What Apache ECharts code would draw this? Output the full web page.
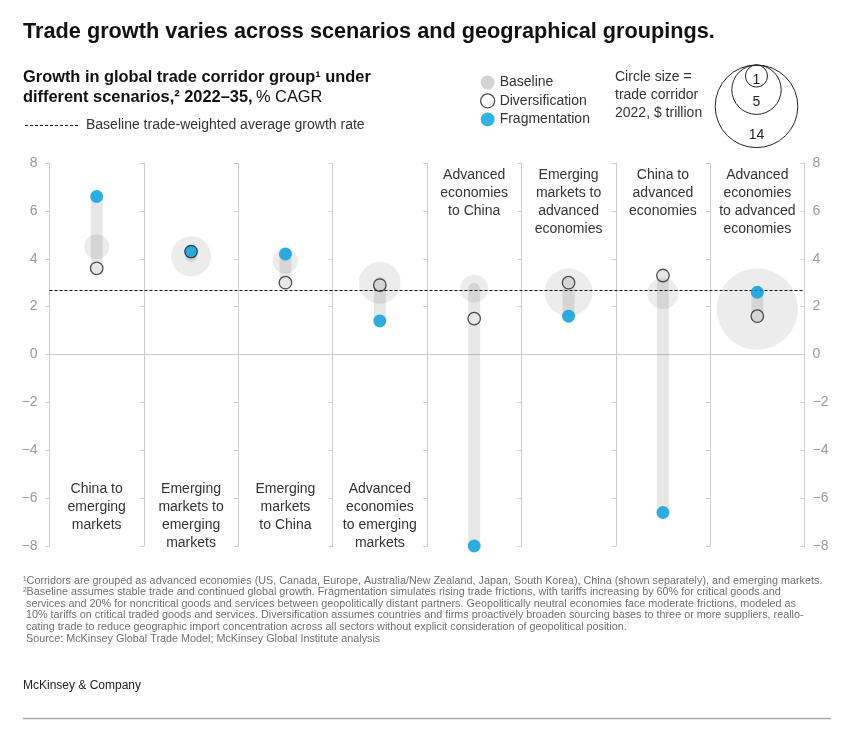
<!DOCTYPE html>
<html><head><meta charset="utf-8">
<script src="https://cdn.jsdelivr.net/npm/echarts@6/dist/echarts.min.js"></script>
<style>html,body{margin:0;padding:0;background:#fff}#c{width:847px;height:736px}</style>
</head><body><div id="c"></div>
<script>
// ---------- data ----------
const categories = [
  'China to\nemerging\nmarkets',
  'Emerging\nmarkets to\nemerging\nmarkets',
  'Emerging\nmarkets\nto China',
  'Advanced\neconomies\nto emerging\nmarkets',
  'Advanced\neconomies\nto China',
  'Emerging\nmarkets to\nadvanced\neconomies',
  'China to\nadvanced\neconomies',
  'Advanced\neconomies\nto advanced\neconomies'
];
const baseline        = [4.5, 4.1, 3.9, 3.0, 2.75, 2.6, 2.55, 1.9];
const diversification = [3.6, 4.3, 3.0, 2.9, 1.5, 3.0, 3.3, 1.6];
const fragmentation   = [6.6, 4.3, 4.2, 1.4, -8.0, 1.6, -6.6, 2.6];
const tradeSize       = [1.3, 3.3, 1.3, 3.6, 1.6, 4.7, 2.0, 13.6]; // $ trillion, 2022
const baselineAverage = 2.7;
const yMin = -8, yMax = 8, yInterval = 2;
const sizeLegendValues = [14, 5, 1];
const bottomLabelled = [true, true, true, true, false, false, false, false];
const footnotes = [
  '\u00b9Corridors are grouped as advanced economies (US, Canada, Europe, Australia/New Zealand, Japan, South Korea), China (shown separately), and emerging markets.',
  '\u00b2Baseline assumes stable trade and continued global growth. Fragmentation simulates rising trade frictions, with tariffs increasing by 60% for critical goods and',
  'services and 20% for noncritical goods and services between geopolitically distant partners. Geopolitically neutral economies face moderate frictions, modeled as',
  '10% tariffs on critical traded goods and services. Diversification assumes countries and firms proactively broaden sourcing bases to three or more suppliers, reallo-',
  'cating trade to reduce geographic import concentration across all sectors without explicit consideration of geopolitical position.',
  'Source: McKinsey Global Trade Model; McKinsey Global Institute analysis'
];

// ---------- layout / style ----------
const FONT = "'Liberation Sans', Arial, Helvetica, sans-serif";
const GL = 49.5, GT = 163, GW = 755, GH = 383;
const COL = GW / categories.length;
const K = 11.04;                       // px radius per sqrt($ trillion)
const radius = v => K * Math.sqrt(v);
const BLUE = '#009EDF';
const LINE_C = '#cdcdcd';
const SOFT = 'rgba(0,0,0,0.095)';
const fmt = v => String(v).replace('-', '\u2212');

const yAxes = [];
for (let i = 0; i <= categories.length; i++) {
  const isLeft = i === 0, isRight = i === categories.length;
  yAxes.push({
    type: 'value', gridIndex: 0, min: yMin, max: yMax, interval: yInterval,
    position: isRight ? 'right' : 'left', offset: isRight ? 0 : -i * COL,
    axisLine: { show: true, onZero: false, lineStyle: { color: LINE_C, width: 1 } },
    axisTick: { show: true, length: 4, inside: isRight, lineStyle: { color: LINE_C } },
    axisLabel: { show: isLeft || isRight, margin: isLeft ? 12 : 8, color: '#9a9a9a', fontSize: 14, fontFamily: FONT, formatter: fmt },
    splitLine: { show: false }
  });
}
const catLabel = { interval: 0, margin: 0, fontSize: 14, lineHeight: 18, color: '#333', fontFamily: FONT };

const graphics = [];
graphics.push({ type: 'text', x: 23, y: 32, style: { text: 'Trade growth varies across scenarios and geographical groupings.', font: 'bold 21.7px ' + FONT, fill: '#111', verticalAlign: 'middle' } });
graphics.push({ type: 'text', x: 23, y: 67, style: {
  text: '{b|Growth in global trade corridor group\u00b9 under}\n{b|different scenarios,\u00b2 2022\u201335,} {r|% CAGR}',
  rich: { b: { font: 'bold 16.4px ' + FONT, fill: '#111', lineHeight: 20 }, r: { font: '16.4px ' + FONT, fill: '#111', lineHeight: 20 } },
  verticalAlign: 'top' } });
graphics.push({ type: 'line', shape: { x1: 25, y1: 125.5, x2: 78, y2: 125.5 }, style: { stroke: '#111', lineWidth: 1, lineDash: [3, 2] } });
graphics.push({ type: 'text', x: 86, y: 125, style: { text: 'Baseline trade-weighted average growth rate', font: '14px ' + FONT, fill: '#333', verticalAlign: 'middle' } });
graphics.push({ type: 'text', x: 615, y: 68, style: { text: 'Circle size =\ntrade corridor\n2022, $ trillion', font: '14px ' + FONT, fill: '#333', lineHeight: 18, verticalAlign: 'top' } });
const SCX = 756.5, STOP = 65;
sizeLegendValues.forEach(v => {
  const r = radius(v), cy = STOP + r;
  graphics.push({ type: 'circle', shape: { cx: SCX, cy: cy, r: r }, style: { fill: 'none', stroke: '#222', lineWidth: 1 } });
  graphics.push({ type: 'text', x: SCX, y: Math.max(cy + 4, STOP + 2 * r - 12), style: { text: String(v), font: '14px ' + FONT, fill: '#222', align: 'center', verticalAlign: 'middle' } });
});
footnotes.forEach((t, i) => {
  graphics.push({ type: 'text', x: (i >= 2 ? 26 : 23), y: 580.7 + i * 11.6, style: { text: t, font: '10.8px ' + FONT, fill: '#707070', verticalAlign: 'middle' } });
});
graphics.push({ type: 'text', x: 23, y: 686, style: { text: 'McKinsey & Company', font: '12px ' + FONT, fill: '#222', verticalAlign: 'middle' } });
graphics.push({ type: 'line', shape: { x1: 23, y1: 718.5, x2: 831, y2: 718.5 }, style: { stroke: '#aaa', lineWidth: 1.5 } });

const option = {
  animation: false,
  backgroundColor: '#fff',
  textStyle: { fontFamily: FONT },
  grid: { left: GL, top: GT, width: GW, height: GH, containLabel: false, outerBoundsMode: 'none' },
  legend: {
    left: 475, top: 70.5, orient: 'vertical', selectedMode: false,
    itemWidth: 14, itemHeight: 14, itemGap: 3.8,
    textStyle: { fontSize: 14, color: '#333', lineHeight: 14, fontFamily: FONT },
    data: [
      { name: 'Baseline', icon: 'circle', itemStyle: { color: '#c8c8c8', borderWidth: 0 } },
      { name: 'Diversification', icon: 'circle', itemStyle: { color: '#fff', borderColor: '#222', borderWidth: 1.3 } },
      { name: 'Fragmentation', icon: 'circle', itemStyle: { color: BLUE, borderWidth: 0 } }
    ]
  },
  xAxis: [
    { type: 'category', gridIndex: 0, data: categories, position: 'bottom', offset: -66, boundaryGap: true,
      axisLine: { show: true, onZero: true, onZeroAxisIndex: 0, lineStyle: { color: LINE_C } },
      axisTick: { show: false }, splitLine: { show: false },
      axisLabel: Object.assign({}, catLabel, { formatter: (v, i) => bottomLabelled[i] ? v : '' }) },
    { type: 'category', gridIndex: 0, data: categories, position: 'top', offset: -3, boundaryGap: true,
      axisLine: { show: false }, axisTick: { show: false }, splitLine: { show: false },
      axisLabel: Object.assign({}, catLabel, { verticalAlign: 'top', formatter: (v, i) => bottomLabelled[i] ? '' : v }) }
  ],
  yAxis: yAxes,
  series: [
    { name: 'Baseline', type: 'scatter', xAxisIndex: 0, yAxisIndex: 0, z: 2, silent: true,
      data: baseline.map((v, i) => [i, v, tradeSize[i]]),
      symbolSize: d => 2 * radius(d[2]),
      itemStyle: { color: SOFT },
      emphasis: { disabled: true },
      markLine: { silent: true, symbol: 'none', label: { show: false }, z: 5,
        lineStyle: { color: '#111', type: [3, 2], width: 1 },
        data: [{ yAxis: baselineAverage }] } },
    { name: 'range', type: 'custom', xAxisIndex: 0, yAxisIndex: 0, z: 3, silent: true,
      data: categories.map((c, i) => {
        const vals = [baseline[i], diversification[i], fragmentation[i]];
        return [i, Math.min(...vals), Math.max(...vals)];
      }),
      encode: { x: 0, y: [1, 2] },
      renderItem: (params, api) => {
        const top = api.coord([api.value(0), api.value(2)]);
        const bot = api.coord([api.value(0), api.value(1)]);
        const w = 12;
        return { type: 'rect', shape: { x: top[0] - w / 2, y: top[1] - w / 2, width: w, height: bot[1] - top[1] + w, r: w / 2 }, style: { fill: SOFT } };
      } },
    { name: 'Fragmentation', type: 'scatter', xAxisIndex: 0, yAxisIndex: 0, z: 10, silent: true,
      data: fragmentation.map((v, i) => [i, v]), symbolSize: 13,
      itemStyle: { color: BLUE }, emphasis: { disabled: true } },
    { name: 'Diversification', type: 'scatter', xAxisIndex: 0, yAxisIndex: 0, z: 11, silent: true,
      data: diversification.map((v, i) => [i, v]), symbolSize: 12.5,
      itemStyle: { color: 'rgba(0,0,0,0)', borderColor: '#222', borderWidth: 1.3 }, emphasis: { disabled: true } }
  ],
  graphic: graphics
};
const chart = echarts.init(document.getElementById('c'), null, { renderer: 'canvas' });
chart.setOption(option);
</script>
</body></html>
